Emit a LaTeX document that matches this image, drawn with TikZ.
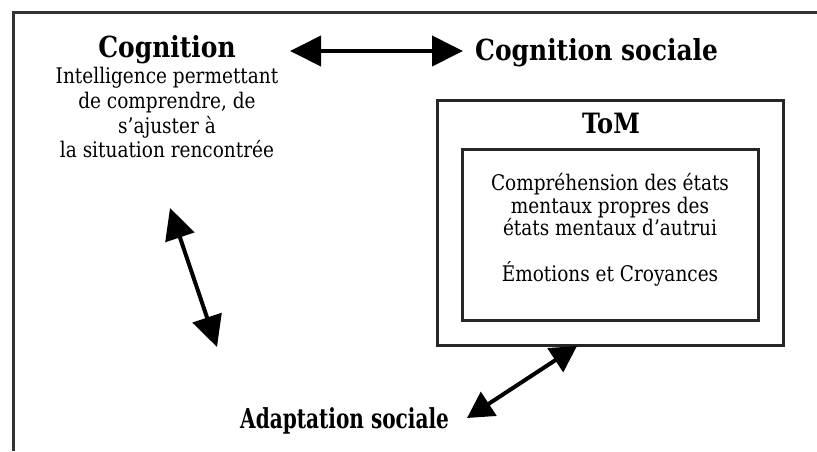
\documentclass[tikz,border=0pt]{standalone}
\usepackage{fontspec}
\setmainfont{DejaVu Serif}[FakeStretch=0.86]
\newfontfamily\narrowserif{DejaVu Serif}[FakeStretch=0.73]
\usetikzlibrary{arrows.meta}
\begin{document}
\begin{tikzpicture}[x=1pt,y=-1pt,
  title/.style={font=\fontsize{29}{34}\selectfont\bfseries, inner sep=0pt},
  body/.style={font=\fontsize{21.5}{24.8}\selectfont, inner sep=0pt, align=center},
  box/.style={draw=black!85, line width=3pt, inner sep=0pt},
  twoway/.style={line width=4pt, {Triangle[length=31pt,width=30pt]}-{Triangle[length=31pt,width=30pt]}},
  twowaysmall/.style={line width=4pt, {Triangle[length=26pt,width=28pt]}-{Triangle[length=26pt,width=28pt]}}
]
\useasboundingbox (0,0) rectangle (817,451);
\fill[white] (0,0) rectangle (817,451);
% frame
\draw[line width=3pt, black!80] (13,451) -- (13,12) -- (817,12);

% Cognition
\node[title, anchor=base] (cog) at (167,57) {Cognition};
\node[body, anchor=north] (cogtxt) at (167,67) {Intelligence permettant\\de comprendre, de\\s'ajuster à\\la situation rencontrée};

% Cognition sociale
\node[title, anchor=base west] (cogsoc) at (475,60) {Cognition sociale};

% ToM boxes
\node[box, minimum width=346pt, minimum height=245pt] (tomouter) at (610,222.5) {};
\node[box, minimum width=296pt, minimum height=171pt] (tominner) at (610,234.5) {};
\node[title, anchor=base, font=\fontsize{28}{34}\selectfont\bfseries] (tom) at (611,133) {ToM};
\node[body, anchor=north, font=\fontsize{21.5}{22.7}\selectfont] (tomtxt) at (610,173) {Compréhension des états\\mentaux propres des\\états mentaux d’autrui\\[22.7pt]Émotions et Croyances};

% Adaptation sociale
\node[title, anchor=base west, font=\narrowserif\fontsize{27.5}{32}\selectfont\bfseries] (adapt) at (240,428) {Adaptation sociale};

% arrows
\coordinate (t1) at (290,51);
\coordinate (t2) at (463,51);
\draw[twoway] (t1) -- (t2);
\coordinate (l1) at (170,208);
\coordinate (l2) at (217,347);
\draw[twoway] (l1) -- (l2);
\coordinate (b1) at (577,346);
\coordinate (b2) at (467,418);
\draw[twowaysmall] (b1) -- (b2);
\end{tikzpicture}
\end{document}
